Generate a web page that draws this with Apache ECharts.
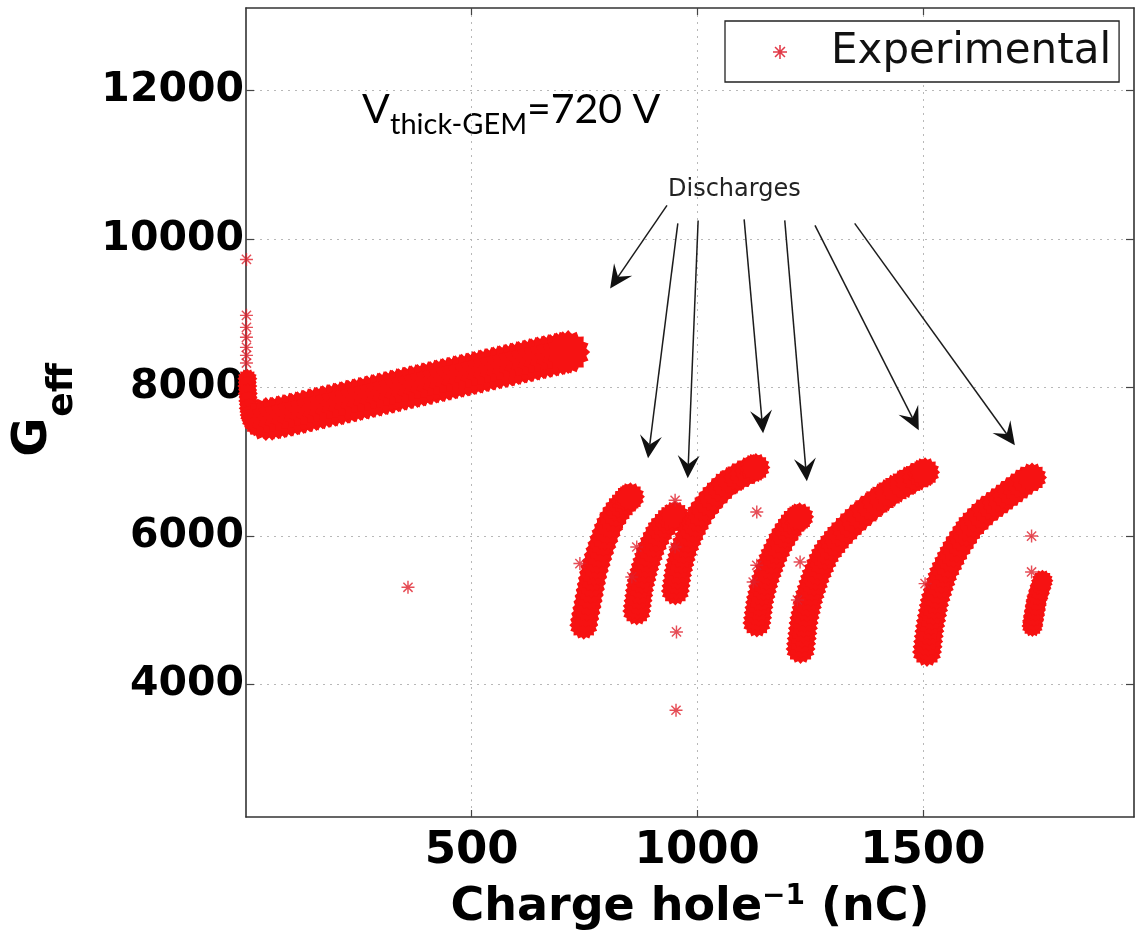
<!DOCTYPE html>
<html>
<head>
<meta charset="utf-8">
<script src="https://cdn.jsdelivr.net/npm/echarts@6/dist/echarts.min.js"></script>
<style>
html,body{margin:0;padding:0;background:#fff;}
#chart{width:1140px;height:939px;}
</style>
</head>
<body>
<div id="chart"></div>
<script>
// ---------------- data ----------------
const xTicks = [500, 1000, 1500];
const yTicks = [4000, 6000, 8000, 10000, 12000];
const xRange = [0, 1968];
const yRange = [2218, 13110];

// start of the continuous run (steep drop right after switch-on)
const run0Head = [
  [3,8120],[3,8020],[4,7920],[5,7820],[6,7720],[8,7630],[12,7560],[18,7500],[26,7470],[36,7480]
];
// initial continuous run (before first discharge)
const run0 = [
  [44,7575],[58,7580],[72,7600],[86,7615],[100,7635],[114,7655],[128,7672],
  [142,7695],[156,7712],[170,7735],[184,7750],[198,7770],[212,7790],[226,7808],[240,7830],
  [254,7845],[268,7868],[282,7885],[296,7905],[310,7925],[324,7945],[338,7965],[352,7985],
  [366,8005],[380,8022],[394,8040],[408,8062],[422,8080],[436,8100],[450,8118],[464,8138],
  [478,8158],[492,8175],[506,8195],[520,8215],[534,8235],[548,8255],[562,8272],[576,8292],
  [590,8310],[604,8330],[618,8350],[632,8368],[646,8390],[660,8408],[674,8425],[688,8445],
  [702,8462],[714,8478]
];
// runs between discharges
const run1 = [
  [748.5,4800],[750.5,4880],[753,4960],[755.5,5040],[758,5120],[760.5,5200],[763,5280],
  [765.5,5360],[768,5440],[770.8,5520],[774.5,5600],[778.3,5680],[782,5760],[786.3,5840],
  [791,5920],[795.5,6000],[800.5,6080],[806,6160],[813,6240],[820,6310],[827,6370],
  [834,6420],[841,6470],[847,6510],[852,6530]
];
const run2 = [
  [866,4990],[867.3,5060],[868.9,5130],[870.4,5200],[872,5270],[874,5340],[876.9,5410],
  [879.7,5480],[882.6,5550],[886,5620],[889.8,5690],[893.8,5760],[897.7,5830],[902.8,5900],
  [908.6,5970],[914.3,6040],[920.5,6100],[928.9,6160],[936.1,6210],[943.3,6250],[950.6,6280]
];
const run3 = [
  [951.5,5260],[952.9,5330],[954.6,5400],[956.3,5470],[958,5540],[960.9,5610],[963.7,5680],
  [966.6,5750],[969.8,5820],[974.6,5890],[979.5,5960],[984.3,6030],[989.6,6100],[995.9,6170],
  [1002.2,6240],[1008.5,6310],[1016.9,6380],[1025.8,6450],[1034.7,6520],[1044.3,6580],
  [1054.2,6640],[1064,6700],[1076.6,6750],[1090,6800],[1101.8,6840],[1114.6,6880],
  [1124.3,6910],[1130,6925]
];
const run4 = [
  [1132.2,4830],[1133.7,4900],[1135.2,4970],[1136.8,5040],[1138.3,5110],[1140.7,5180],
  [1143.6,5250],[1146.5,5320],[1149.4,5390],[1153.2,5460],[1157.3,5530],[1161.4,5600],
  [1165.5,5670],[1170.1,5740],[1175.9,5810],[1181.6,5880],[1187.5,5950],[1194.4,6020],
  [1201.8,6090],[1208.3,6150],[1214.7,6200],[1222.6,6240],[1227,6260]
];
const run5 = [
  [1229,4480],[1230.2,4550],[1231.6,4620],[1233,4690],[1234.3,4760],[1235.7,4830],
  [1237.6,4900],[1240.1,4970],[1242.6,5040],[1245.1,5110],[1247.8,5180],[1251.4,5250],
  [1255.1,5320],[1258.7,5390],[1262.4,5460],[1267.3,5530],[1272.5,5600],[1277.7,5670],
  [1282.9,5740],[1289.1,5800],[1296.8,5860],[1304.5,5920],[1312.1,5980],[1321,6040],
  [1330.9,6100],[1340.8,6160],[1350.7,6220],[1361.9,6280],[1373.8,6340],[1385.7,6400],
  [1398.1,6460],[1411.8,6520],[1425.5,6580],[1440.4,6640],[1456.9,6700],[1470.7,6750],
  [1486.1,6800],[1498.6,6840],[1505,6860]
];
const run6 = [
  [1509.2,4440],[1510.5,4510],[1511.8,4580],[1513.2,4650],[1514.5,4720],[1516,4790],
  [1518.2,4860],[1520.3,4930],[1522.5,5000],[1524.7,5070],[1526.8,5140],[1530.5,5210],
  [1534.1,5280],[1537.7,5350],[1541.3,5420],[1544.8,5490],[1550.4,5560],[1556.2,5630],
  [1561.9,5700],[1567.8,5770],[1574.3,5840],[1581.8,5910],[1589.2,5980],[1596.6,6050],
  [1603,6110],[1612.1,6170],[1621.9,6230],[1631.5,6290],[1641.9,6350],[1653.5,6400],
  [1664.5,6450],[1675.5,6500],[1686,6550],[1697,6600],[1708,6650],[1718.7,6700],
  [1729.7,6750],[1742,6790]
];
const run7 = [
  [1742.8,4790],[1744.3,4860],[1746.4,4930],[1748.3,5000],[1750.2,5070],[1752.1,5140],
  [1755.7,5210],[1759.1,5280],[1762.6,5350],[1765,5400]
];
// isolated points
const strayPoints = [
  [1,9725],[1,8972],[1,8810],[1,8676],[1,8541],[1,8433],[1,8330],
  [359,5311],[740,5630],[855,5450],[866,5853],[951,6482],[951,5853],[954,4710],[953,3655],
  [1132,6324],[1132,5607],[1124,5382],[1222,5140],[1228,5652],[1505,5360],[1741,6000],[1741,5517]
];
// annotation arrows: [fromX, fromY, toX, toY] in data units
const dischargeArrows = [
  [933,10452,807,9335],
  [957,10210,891,7047],
  [1002,10250,979,6778],
  [1104,10264,1146,7384],
  [1194,10250,1243,6738],
  [1261,10183,1491,7424],
  [1349,10210,1704,7222]
];
const seriesName = 'Experimental';

// ---------------- styling helpers ----------------
const asterisk = 'path://M9 1 L11 1 L11 19 L9 19 Z M1 9 L19 9 L19 11 L1 11 Z ' +
  'M2.929 4.343 L4.343 2.929 L17.071 15.657 L15.657 17.071 Z ' +
  'M4.343 17.071 L2.929 15.657 L15.657 2.929 L17.071 4.343 Z';
function spiky(n, rOut, rIn) {
  let d = '';
  for (let i = 0; i < 2 * n; i++) {
    const a = i * Math.PI / n - Math.PI / 2;
    const r = i % 2 ? rIn : rOut;
    d += (i ? 'L' : 'M') + (10 + r * Math.cos(a)).toFixed(2) + ' ' + (10 + r * Math.sin(a)).toFixed(2) + ' ';
  }
  return 'path://' + d + 'Z';
}
const blob = spiky(16, 10, 8.4);
const red = '#f61212';
const tickFont = "'DejaVu Sans'";
const plain = function (v) { return String(v); };

function band(data, size) {
  return {
    name: seriesName, type: 'scatter', data: data, symbol: blob, symbolSize: size,
    itemStyle: { color: red, opacity: 1 }, silent: true, animation: false, z: 2
  };
}

const chart = echarts.init(document.getElementById('chart'), null, { renderer: 'canvas' });

const option = {
  animation: false,
  backgroundColor: '#fff',
  grid: { left: 246, right: 6, top: 8, bottom: 122, containLabel: false },
  legend: {
    data: [{ name: seriesName, icon: asterisk }],
    left: 725, top: 21,
    padding: [9, 8, 8, 48],
    itemWidth: 92, itemHeight: 14,
    backgroundColor: '#fff', borderColor: '#222', borderWidth: 1.3, borderRadius: 0,
    selectedMode: false,
    itemStyle: { color: '#e23a48' },
    textStyle: { fontSize: 42, lineHeight: 44, fontFamily: "'DejaVu Sans'", color: '#111' }
  },
  xAxis: [{
    type: 'value', min: xRange[0], max: xRange[1], position: 'bottom',
    axisLine: { show: true, onZero: false, lineStyle: { color: '#333', width: 1.6 } },
    axisTick: { show: true, inside: true, length: 7, customValues: xTicks, lineStyle: { color: '#444', width: 1.2 } },
    axisLabel: {
      customValues: xTicks, margin: 11, fontSize: 45, lineHeight: 46, fontWeight: 'bold',
      fontFamily: tickFont, formatter: plain,
      color: function (v) { return v === 500 ? '#3d2b2b' : '#000'; }
    },
    splitLine: { show: true, lineStyle: { type: [2, 5], color: '#b8b8b8', width: 1 } },
    name: '{a|Charge hole}{s|\u22121}{a| (nC)}',
    nameLocation: 'middle', nameGap: 66,
    nameTextStyle: {
      rich: {
        a: { fontSize: 46, fontWeight: 'bold', fontFamily: tickFont, color: '#000', lineHeight: 50 },
        s: { fontSize: 28, fontWeight: 'bold', fontFamily: tickFont, color: '#000', lineHeight: 30, verticalAlign: 'top' }
      }
    }
  }, {
    type: 'value', min: xRange[0], max: xRange[1], position: 'top',
    axisLine: { show: true, onZero: false, lineStyle: { color: '#333', width: 1.6 } },
    axisTick: { show: true, inside: true, length: 7, customValues: xTicks, lineStyle: { color: '#444', width: 1.2 } },
    axisLabel: { show: false }, splitLine: { show: false }
  }],
  yAxis: [{
    type: 'value', min: yRange[0], max: yRange[1], position: 'left',
    axisLine: { show: true, onZero: false, lineStyle: { color: '#333', width: 1.6 } },
    axisTick: { show: true, inside: true, length: 8, customValues: yTicks, lineStyle: { color: '#444', width: 1.2 } },
    axisLabel: {
      customValues: yTicks, margin: 2, fontSize: 41, fontWeight: 'bold', fontFamily: tickFont, color: '#000',
      formatter: plain
    },
    splitLine: { show: true, lineStyle: { type: [2, 5], color: '#b8b8b8', width: 1 } }
  }, {
    type: 'value', min: yRange[0], max: yRange[1], position: 'right',
    axisLine: { show: true, onZero: false, lineStyle: { color: '#333', width: 1.6 } },
    axisTick: { show: true, inside: true, length: 8, customValues: yTicks, lineStyle: { color: '#444', width: 1.2 } },
    axisLabel: { show: false }, splitLine: { show: false }
  }],
  graphic: [
    { type: 'text', x: 34, y: 437, rotation: Math.PI / 2,
      style: { text: 'G', font: "bold 48px 'DejaVu Sans'", fill: '#000', align: 'center', verticalAlign: 'middle' } },
    { type: 'text', x: 63, y: 390, rotation: Math.PI / 2,
      style: { text: 'eff', font: "bold 36px 'DejaVu Sans'", fill: '#000', align: 'center', verticalAlign: 'middle' } },
    { type: 'text', x: 362, y: 110,
      style: { text: 'V', font: "41px Lato", fill: '#000', align: 'left', verticalAlign: 'middle' } },
    { type: 'text', x: 390, y: 125,
      style: { text: 'thick-GEM', font: "29px Lato", fill: '#000', align: 'left', verticalAlign: 'middle' } },
    { type: 'text', x: 527, y: 110,
      style: { text: '=720 V', font: "41px Lato", fill: '#000', align: 'left', verticalAlign: 'middle' } },
    { type: 'text', x: 668, y: 190,
      style: { text: 'Discharges', font: "24px 'DejaVu Sans'", fill: '#222', align: 'left', verticalAlign: 'middle' } }
  ],
  series: [
    band(run0Head, 20),
    band(run0, 44),
    band(run1, 29), band(run2, 29), band(run3, 29), band(run4, 29),
    band(run5, 30), band(run6, 30), band(run7, 22),
    {
      name: seriesName, type: 'scatter', data: strayPoints, symbol: asterisk, symbolSize: 13,
      itemStyle: { color: '#e0202c' }, silent: true, z: 3
    },
    {
      name: 'Discharges', type: 'custom', data: dischargeArrows, silent: true, clip: false, z: 5,
      renderItem: function (params, api) {
        const p0 = api.coord([api.value(0), api.value(1)]);
        const p1 = api.coord([api.value(2), api.value(3)]);
        const dx = p1[0] - p0[0], dy = p1[1] - p0[1];
        const len = Math.sqrt(dx * dx + dy * dy);
        const ux = dx / len, uy = dy / len, nx = -uy, ny = ux;
        const H = 23, W = 11, N = 14;
        const bx = p1[0] - H * ux, by = p1[1] - H * uy;
        const mx = p1[0] - N * ux, my = p1[1] - N * uy;
        return {
          type: 'group',
          children: [
            { type: 'line', shape: { x1: p0[0], y1: p0[1], x2: mx, y2: my },
              style: { stroke: '#1c1c1c', lineWidth: 1.5 } },
            { type: 'polygon', shape: { points: [[p1[0], p1[1]], [bx + W * nx, by + W * ny], [mx, my], [bx - W * nx, by - W * ny]] },
              style: { fill: '#111' } }
          ]
        };
      }
    }
  ]
};
chart.setOption(option);
</script>
</body>
</html>
